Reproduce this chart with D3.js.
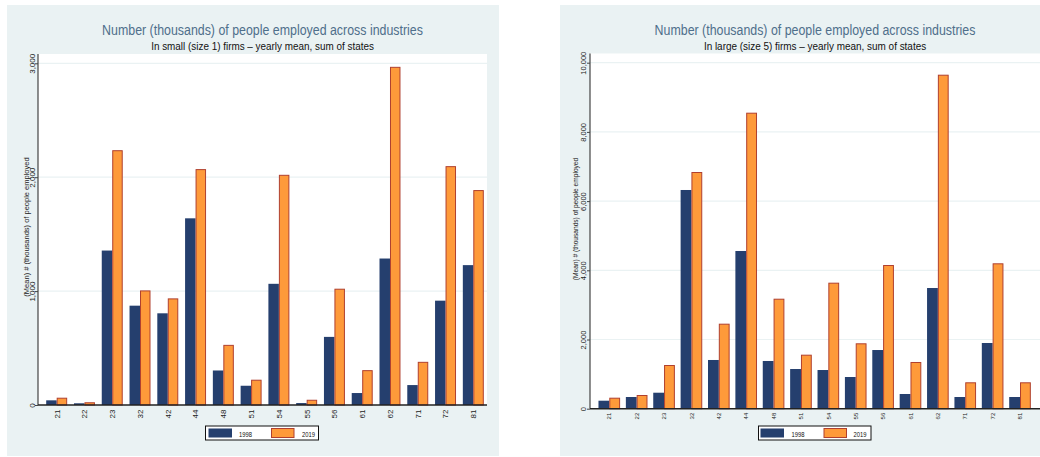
<!DOCTYPE html>
<html>
<head>
<meta charset="utf-8">
<script src="https://cdn.jsdelivr.net/npm/d3@7"></script>
<style>
  html, body { margin: 0; padding: 0; background: #ffffff; }
  svg { display: block; }
  text { font-family: "Liberation Sans", Arial, Helvetica, sans-serif; }
  text.narrow { font-family: "Liberation Sans Narrow", "Liberation Sans", Arial, sans-serif; }
</style>
</head>
<body>
<svg id="chart" width="1040" height="457"></svg>
<script>
// NAICS industry codes on the x axis
const industries = ["21", "22", "23", "32", "42", "44", "48", "51", "54", "55", "56", "61", "62", "71", "72", "81"];
const years = ["1998", "2019"];

// Employment (thousands), small firms (size 1)
const small1998 = [41, 15, 1356, 872, 805, 1639, 303, 169, 1064, 17, 598, 105, 1286, 175, 916, 1228];
const small2019 = [64, 24, 2237, 1006, 936, 2071, 528, 222, 2021, 46, 1021, 306, 2969, 379, 2097, 1887];

// Employment (thousands), large firms (size 5)
const large1998 = [231, 338, 462, 6321, 1408, 4558, 1379, 1147, 1118, 916, 1696, 425, 3488, 338, 1899, 338];
const large2019 = [318, 396, 1263, 6841, 2457, 8555, 3179, 1561, 3642, 1890, 4153, 1350, 9653, 763, 4202, 763];

const smallTicks = [0, 1000, 2000, 3000];
const largeTicks = [0, 2000, 4000, 6000, 8000, 10000];

const titleText = "Number (thousands) of people employed across industries";
const yTitleText = "(Mean) # (thousands) of people employed";

const colors = { "1998": "#253f6e", "2019": "#fe9a3a" };
const orangeEdge = "#b0402f";

const svg = d3.select("#chart");

// Condensed text: squeeze a label horizontally to a given width around its anchor
function condensed(sel, x, y, width, anchor) {
  const natural = sel.node().getComputedTextLength();
  const k = natural > width ? width / natural : 1;
  sel.attr("text-anchor", anchor)
    .attr("transform", `translate(${x},${y}) scale(${k},1)`);
  return sel;
}

function drawPanel(p) {
  const g = svg.append("g");

  // panel background
  g.append("rect")
    .attr("x", p.bg[0]).attr("y", 5)
    .attr("width", p.bg[1] - p.bg[0]).attr("height", 451)
    .attr("fill", "#eaf2f3");

  // plot region
  g.append("rect")
    .attr("x", p.plot[0]).attr("y", p.plotTop)
    .attr("width", p.plot[1] - p.plot[0]).attr("height", p.base - p.plotTop)
    .attr("fill", "#ffffff");

  const y = d3.scaleLinear().domain([0, p.ticks[p.ticks.length - 1]]).range([p.base, p.topTick]);
  const x = d3.scaleBand().domain(industries).range(p.bandRange)
    .paddingInner(p.padInner).paddingOuter(p.padInner / 2);
  const xs = d3.scaleBand().domain(years).range([0, x.bandwidth()]);

  // gridlines
  g.append("g").selectAll("line").data(p.ticks.filter(t => t > 0)).join("line")
    .attr("x1", p.plot[0]).attr("x2", p.plot[1])
    .attr("y1", d => y(d)).attr("y2", d => y(d))
    .attr("stroke", "#eaf2f3").attr("stroke-width", 1.2);

  // y axis
  const yAxis = g.append("g").attr("transform", `translate(${p.plot[0]},0)`)
    .call(d3.axisLeft(y).tickValues(p.ticks).tickSize(3).tickFormat(d3.format(",")));
  yAxis.select(".domain").attr("d", `M0,${p.plotTop}V${p.base}`).attr("stroke", "#444").attr("stroke-width", 1.2);
  yAxis.selectAll(".tick line").attr("stroke", "#444");
  yAxis.selectAll(".tick text")
    .attr("x", null).attr("dy", null)
    .attr("transform", `translate(${p.yLabelX - p.plot[0]},0) rotate(-90)`)
    .attr("text-anchor", "middle")
    .attr("font-size", p.yLabelSize).attr("fill", "#222");

  // bars
  const rows = industries.map((c, i) => ({ c, v: [p.d1998[i], p.d2019[i]] }));
  const grp = g.append("g").selectAll("g").data(rows).join("g")
    .attr("transform", d => `translate(${x(d.c)},0)`);
  grp.selectAll("rect").data(d => years.map((yr, k) => ({ yr, v: d.v[k] }))).join("rect")
    .attr("x", d => xs(d.yr) + (d.yr === "2019" ? 0.5 : 0))
    .attr("y", d => y(d.v) + (d.yr === "2019" ? 0.5 : 0))
    .attr("width", d => xs.bandwidth() - (d.yr === "2019" ? 1 : 0))
    .attr("height", d => Math.max(0, p.base - y(d.v) - (d.yr === "2019" ? 0.5 : 0)))
    .attr("fill", d => colors[d.yr])
    .attr("stroke", d => d.yr === "2019" ? orangeEdge : "none")
    .attr("stroke-width", 1);

  // x axis baseline and labels
  g.append("line")
    .attr("x1", p.plot[0]).attr("x2", p.plot[1])
    .attr("y1", p.base).attr("y2", p.base)
    .attr("stroke", "#222").attr("stroke-width", 1.5);
  const xAxis = g.append("g").attr("transform", `translate(0,${p.base})`)
    .call(d3.axisBottom(x).tickSize(0).tickSizeOuter(0));
  xAxis.select(".domain").remove();
  xAxis.selectAll(".tick text")
    .attr("y", null).attr("dy", null)
    .attr("transform", `translate(${p.xLabelSize * 0.36},${p.xLabelY}) rotate(-90)`)
    .attr("text-anchor", "end")
    .attr("font-size", p.xLabelSize).attr("fill", "#222");

  // y axis title
  g.append("text")
    .attr("transform", `translate(${p.yTitle[0]},${p.yTitle[1]}) rotate(-90)`)
    .attr("text-anchor", "middle")
    .attr("font-size", p.yTitleSize).attr("fill", "#222")
    .text(yTitleText);

  // titles
  const cx = (p.plot[0] + p.plot[1]) / 2;
  const t1 = g.append("text").attr("class", "narrow")
    .attr("font-size", 15).attr("fill", "#4f6f8b")
    .text(titleText);
  condensed(t1, cx, 34.7, 321, "middle");
  const t2 = g.append("text").attr("class", "narrow")
    .attr("font-size", 11).attr("fill", "#111")
    .text(p.subtitle);
  condensed(t2, cx, 50, p.subWidth, "middle");

  // legend
  const L = p.legend;
  const lg = g.append("g");
  lg.append("rect")
    .attr("x", L.x).attr("y", 426).attr("width", L.w).attr("height", 14)
    .attr("fill", "#ffffff").attr("stroke", "#111").attr("stroke-width", 1);
  years.forEach((yr, k) => {
    lg.append("rect")
      .attr("x", L.sw[k] + (k ? 0.5 : 0)).attr("y", 428.5)
      .attr("width", 23.5 - (k ? 1 : 0)).attr("height", 9)
      .attr("fill", colors[yr])
      .attr("stroke", k ? orangeEdge : "none").attr("stroke-width", 1);
    const lt = lg.append("text").attr("class", "narrow")
      .attr("font-size", 8).attr("fill", "#111")
      .text(yr);
    condensed(lt, L.tx[k], 436.5, 13, "start");
  });
}

drawPanel({
  bg: [7, 499], plot: [38, 487], plotTop: 54, base: 405, topTick: 63.3,
  ticks: smallTicks, d1998: small1998, d2019: small2019,
  bandRange: [42.8, 487.2], padInner: 0.245,
  yLabelX: 35, yLabelSize: 8, xLabelY: 4.5, xLabelSize: 8,
  yTitle: [28.5, 227], yTitleSize: 7.5,
  subtitle: "In small (size 1) firms \u2013 yearly mean, sum of states", subWidth: 223,
  legend: { x: 205.5, w: 113, sw: [208.5, 271], tx: [239, 302] }
});

drawPanel({
  bg: [560, 1040], plot: [590, 1040], plotTop: 53.5, base: 408.7, topTick: 62.7,
  ticks: largeTicks, d1998: large1998, d2019: large2019,
  bandRange: [595.6, 1033.7], padInner: 0.21,
  yLabelX: 586, yLabelSize: 7.5, xLabelY: 4, xLabelSize: 6,
  yTitle: [578, 219], yTitleSize: 6.6,
  subtitle: "In large (size 5) firms \u2013 yearly mean, sum of states", subWidth: 222.5,
  legend: { x: 758.5, w: 112.5, sw: [760.5, 823.5], tx: [791.5, 853.5] }
});
</script>
</body>
</html>
